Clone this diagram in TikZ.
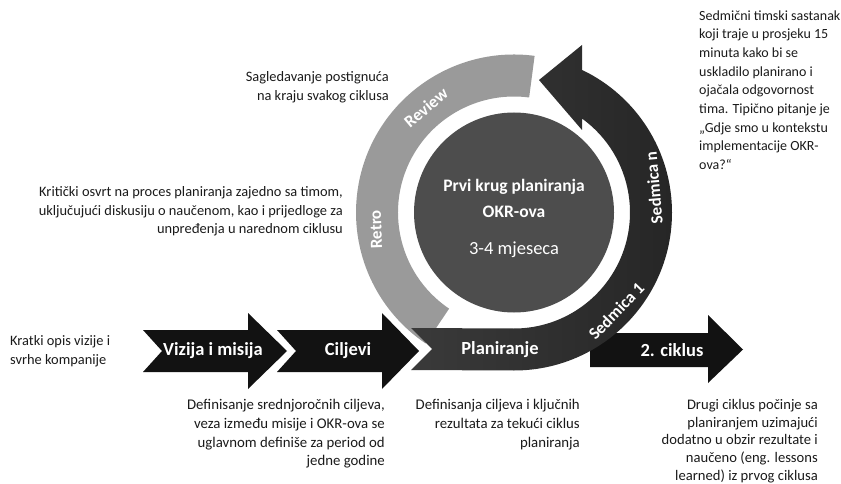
\documentclass[tikz,border=0pt]{standalone}
\usepackage{fontspec}
\setmainfont{Carlito}
\usetikzlibrary{calc}
\definecolor{chevc}{HTML}{121212}
\definecolor{ringdl}{HTML}{3A3A3A}
\definecolor{ringdr}{HTML}{262626}
\definecolor{ringg}{HTML}{9A9A9A}
\definecolor{circc}{HTML}{4D4D4D}
\definecolor{txtc}{HTML}{1A1A1A}
\tikzset{
  chev/.style={fill=chevc, draw=none},
  lbl/.style={text=white, font=\fontsize{18.5}{21}\selectfont\bfseries, inner sep=0pt},
  clbl/.style={text=white, font=\fontsize{17.5}{21}\selectfont\bfseries, inner sep=0pt},
  ringlbl/.style={text=white, font=\fontsize{17}{20}\selectfont\bfseries, inner sep=0pt},
  desc/.style={text=txtc, font=\fontsize{14.4}{18.7}\selectfont, inner sep=0pt},
  descb/.style={text=txtc, font=\fontsize{14.8}{18.7}\selectfont, inner sep=0pt},
}
\begin{document}
\begin{tikzpicture}[x=1pt,y=1pt]
\useasboundingbox (0,0) rectangle (841,483);
\coordinate (C) at (514,270.5);

% 2. ciklus arrow (behind the ring)
\fill[chev] (590,150) -- (708,150) -- (708,168) -- (743,133.5) -- (708,100) -- (708,116) -- (590,116) -- cycle;

% chevrons
\fill[chev] (143,153) -- (248,153) -- (248,170) -- (287,132) -- (248,94) -- (248,111) -- (143,111) -- (162,132) -- cycle;
\fill[chev] (277,153) -- (382,153) -- (382,170) -- (419,132) -- (382,94) -- (382,111) -- (277,111) -- (296,132) -- cycle;

% gray arc (Retro / Review)
\fill[ringg] ($(C)+(82.5:158)$) arc[start angle=82.5, end angle=236, radius=158]
  -- ($(C)+(236:116)$) arc[start angle=236, end angle=82.5, radius=116] -- cycle;

% dark ring with arrowhead
\shade[left color=ringdl, right color=ringdr] (411,155) -- (432,134) -- (411,113) -- ($(C)+(270:158)$)
  arc[start angle=270, end angle=424.5, radius=158]
  -- (582,438) -- (539,403) -- (582,353)
  -- ($(C)+(54.1:116)$) arc[start angle=54.1, end angle=-90, radius=116] -- cycle;

% centre circle
\fill[circc] (C) circle[radius=100];

% labels on shapes
\node[lbl] (viz) at (213,132) {Vizija i misija};
\node[lbl] (cil) at (348,132) {Ciljevi};
\node[lbl] (pla) at (500,133) {Planiranje};
\node[lbl] (cik) at (672,133) {2. ciklus};

\node[clbl] (prvi) at (514,296) {Prvi krug planiranja};
\node[clbl] (okr) at (514,271) {OKR-ova};
\node[text=white, font=\fontsize{18.5}{21}\selectfont, inner sep=0pt] (mj) at (514,233) {3-4 mjeseca};

\node[ringlbl, rotate=40] (rev) at ($(C)+(130:137)$) {Review};
\node[ringlbl, rotate=92] (ret) at ($(C)+(187:139)$) {Retro};
\node[ringlbl, rotate=95] (sedn) at ($(C)+(10:142)$) {Sedmica n};
\node[ringlbl, rotate=46] (sed1) at ($(C)+(-44:142)$) {Sedmica 1};

% descriptions
\node[desc, anchor=east, align=right] (d1) at (389,395.5) {Sagledavanje postignuća\\na kraju svakog ciklusa};
\node[desc, anchor=east, align=right] (d2) at (343,271.5) {Kritički osvrt na proces planiranja zajedno sa timom,\\uključujući diskusiju o naučenom, kao i prijedloge za\\unpređenja u narednom ciklusu};
\node[desc, anchor=west, align=left] (d3) at (10,132) {Kratki opis vizije i\\svrhe kompanije};
\node[text=txtc, font=\fontsize{14}{18.7}\selectfont, inner sep=0pt, anchor=west, align=left] (d4) at (699,393) {Sedmični timski sastanak\\koji traje u prosjeku 15\\minuta kako bi se\\uskladilo planirano i\\ojačala odgovornost\\tima. Tipično pitanje je\\„Gdje smo u kontekstu\\implementacije OKR-\\ova?“};
\node[descb, anchor=east, align=right] (d5) at (385,49) {Definisanje srednjoročnih ciljeva,\\veza između misije i OKR-ova se\\uglavnom definiše za period od\\jedne godine};
\node[descb, anchor=east, align=right] (d6) at (580,58.5) {Definisanja ciljeva i ključnih\\rezultata za tekući ciklus\\planiranja};
\node[descb, anchor=east, align=right, font=\fontsize{14.6}{17.6}\selectfont] (d7) at (818,42) {Drugi ciklus počinje sa\\planiranjem uzimajući\\dodatno u obzir rezultate i\\naučeno (eng. lessons\\learned) iz prvog ciklusa};
\end{tikzpicture}
\end{document}
